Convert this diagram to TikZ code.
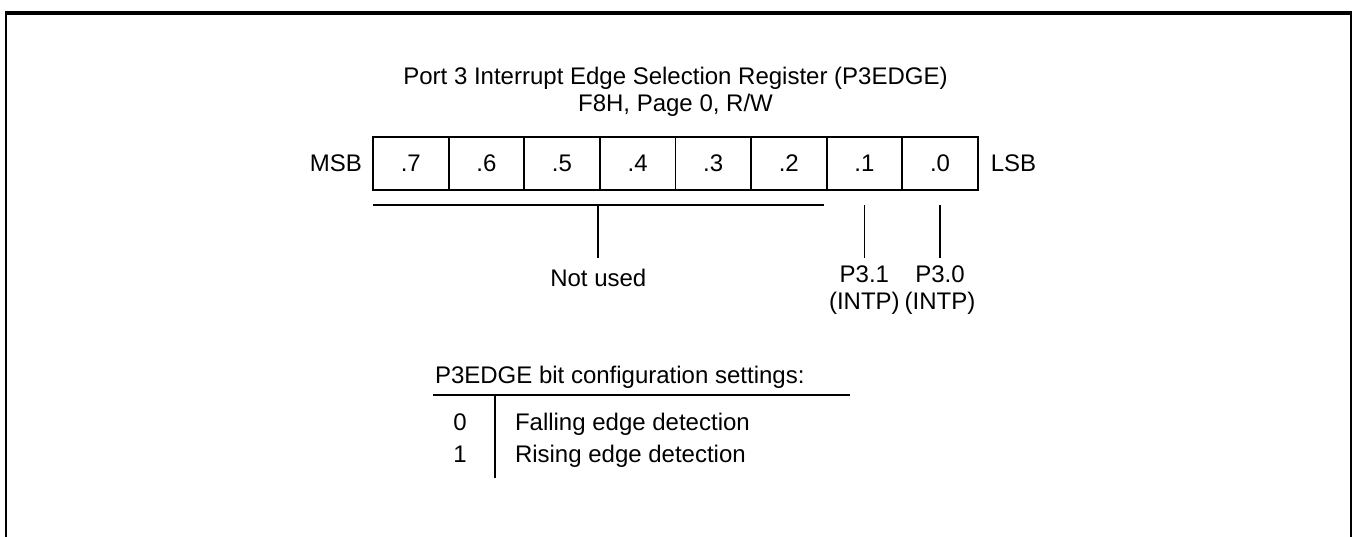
\documentclass[tikz,border=0pt]{standalone}
\usepackage{fontspec}
\setmainfont{Liberation Sans}
\usetikzlibrary{positioning,calc}
\tikzset{
  bitcell/.style={draw,line width=1.8pt,minimum width=75.6pt,minimum height=53pt,
    inner sep=0pt,outer sep=0pt},
  lbl/.style={inner sep=0pt,outer sep=0pt},
  wire/.style={line width=1.8pt},
  frame/.style={line width=1.8pt}
}

\begin{document}
\begin{tikzpicture}[x=1pt,y=-1pt,font=\fontsize{24}{27}\selectfont]
\useasboundingbox (0,0) rectangle (1353,536);

% outer frame, open at the bottom
\draw[frame] (6,540) |- (1351,13) -- (1351,540);
\draw[line width=3.5pt] (5,13) -- (1352,13);

% title
\node[lbl,align=center,anchor=north] (title) at (675.5,67)
  {Port 3 Interrupt Edge Selection Register (P3EDGE)\\F8H, Page 0, R/W};

% register bits, MSB first
\foreach \b [count=\i from 0] in {7,...,0}
  \node[bitcell] (b\b) at ({373+75.6*(\i+0.5)},163.5) {.\b};
\node[lbl,left=11pt of b7] (msb) {MSB};
\node[lbl,right=13pt of b0] (lsb) {LSB};

% bits .7 to .2 share one bracket
\coordinate (nuL) at ($(b7.south west)+(0,15)$);
\coordinate (nuR) at ($(b2.south east)+(-3,15)$);
\coordinate (nuM) at ($(nuL)!0.5!(nuR)$);
\draw[wire] (nuL) -- (nuR);
\node[lbl,anchor=north] (notused) at ($(nuM)+(0,64)$) {Not used};
\draw[wire,shorten >=11pt] (nuM) -- (notused.north);

% interrupt pins
\node[lbl,align=center,anchor=north] (p31) at ($(b1.south)+(0,76)$) {P3.1\\(INTP)};
\node[lbl,align=center,anchor=north] (p30) at ($(b0.south)+(0,76)$) {P3.0\\(INTP)};
\draw[wire,shorten <=15pt,shorten >=8pt] (b1.south) -- (p31.north);
\draw[wire,shorten <=15pt,shorten >=8pt] (b0.south) -- (p30.north);

% configuration table
\node[lbl,anchor=base west] (cfg) at (435,383) {P3EDGE bit configuration settings:};
\coordinate (cfgL) at (433,395);
\coordinate (cfgR) at (850,395);
\coordinate (cfgT) at (495,395);
\coordinate (cfgB) at (495,478);
\draw[wire] (cfgL) -- (cfgR);
\draw[wire] (cfgT) -- (cfgB);
\node[lbl,anchor=base] (v0) at (460,430) {0};
\node[lbl,anchor=base] (v1) at (460,462) {1};
\node[lbl,anchor=base west] (d0) at (515,430) {Falling edge detection};
\node[lbl,anchor=base west] (d1) at (515,462) {Rising edge detection};
\end{tikzpicture}
\end{document}
